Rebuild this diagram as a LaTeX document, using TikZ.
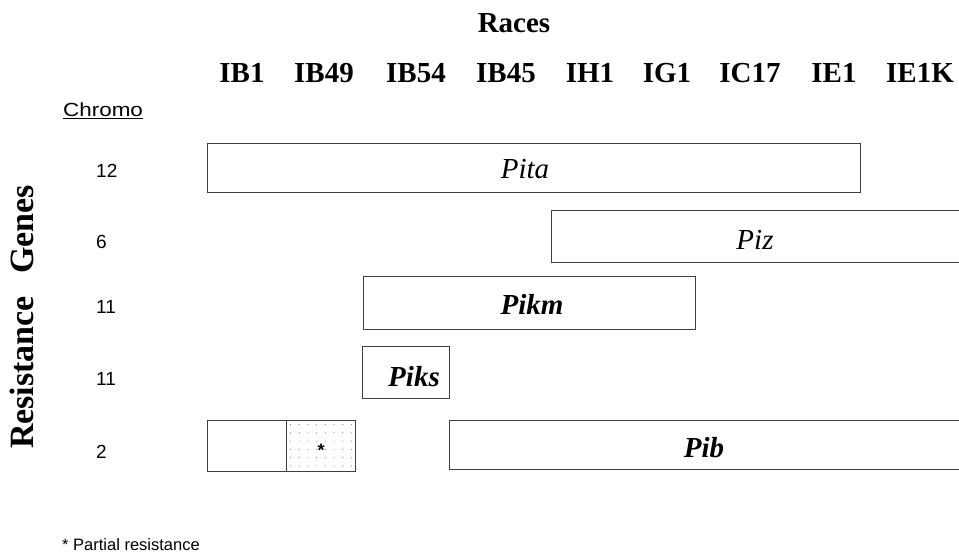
\documentclass[tikz,border=0pt]{standalone}
\usepackage{fontspec}
\setmainfont{Liberation Serif}
\newfontfamily\arialfont{Liberation Sans}
\begin{document}
\begin{tikzpicture}[x=1pt,y=-1pt,
  gbox/.style={draw=black!75, line width=1.4pt, rectangle, inner sep=0pt, anchor=north west},
  race/.style={anchor=base, inner sep=0pt, font=\fontsize{29}{29}\selectfont\bfseries},
  gname/.style={anchor=base, inner sep=0pt, font=\fontsize{29}{29}\selectfont\itshape},
  gnamebf/.style={gname, font=\fontsize{29}{29}\selectfont\bfseries\itshape},
  chr/.style={anchor=base west, inner sep=0pt, font=\arialfont\fontsize{19}{19}\selectfont}]
\useasboundingbox (0,0) rectangle (959,556);
\clip (0,0) rectangle (959,556);
\fill[white] (0,0) rectangle (959,556);

% headings
\node[race] (races) at (514,33) {Races};
\foreach \lab/\xx in {IB1/242,IB49/324,IB54/416,IB45/506,IH1/590,IG1/667,IC17/750,IE1/834,IE1K/920}
  \node[race] (r\lab) at (\xx,83) {\lab};

\node[rotate=90, anchor=base, inner sep=0pt, font=\fontsize{34}{34}\selectfont\bfseries]
  (resgenes) at (33,317) {Resistance\hspace{0.4em} Genes};

\node[chr] (chromo) at (63,117) {\scalebox{1.18}[1]{\underline{Chromo}}};
\node[chr] (c12) at (96,178) {12};
\node[chr] (c6)  at (96,249) {6};
\node[chr] (c11a) at (96,313) {11};
\node[chr] (c11b) at (96,385) {11};
\node[chr] (c2)  at (96,458) {2};

% gene boxes
\node[gbox, minimum width=653pt, minimum height=49pt] (pita) at (207,143) {};
\node[gbox, minimum width=430pt, minimum height=52pt] (piz)  at (551,210) {};
\node[gbox, minimum width=332pt, minimum height=53pt] (pikm) at (363,276) {};
\node[gbox, minimum width=87pt,  minimum height=52pt] (piks) at (362,346) {};
\node[gbox, minimum width=79pt,  minimum height=51pt] (pibA) at (207,420) {};
% partial resistance cell, dotted
\fill[black!45] \foreach \yy in {424.5,432.8,...,468} { \foreach \xx in {290.5,299.2,...,354} { (\xx,\yy) circle (0.6pt) } };
\node[gbox, minimum width=69pt,  minimum height=51pt] (pibB) at (286,420) {};
\node[gbox, minimum width=530pt, minimum height=49pt] (pib)  at (449,420) {};

% gene names
\node[gname]   (lpita) at (525,179) {Pita};
\node[gname]   (lpiz)  at (755,250) {Piz};
\node[gnamebf] (lpikm) at (532,314) {Pikm};
\node[gnamebf] (lpiks) at (414,386) {Piks};
\node[gnamebf] (lpib)  at (704,457) {Pib};
\node[font=\arialfont\bfseries\fontsize{18}{18}\selectfont, inner sep=0pt] (star) at (321,450) {*};

\node[anchor=base west, inner sep=0pt, font=\arialfont\fontsize{16.5}{16.5}\selectfont] (note) at (62,550) {* Partial resistance};
\end{tikzpicture}
\end{document}
